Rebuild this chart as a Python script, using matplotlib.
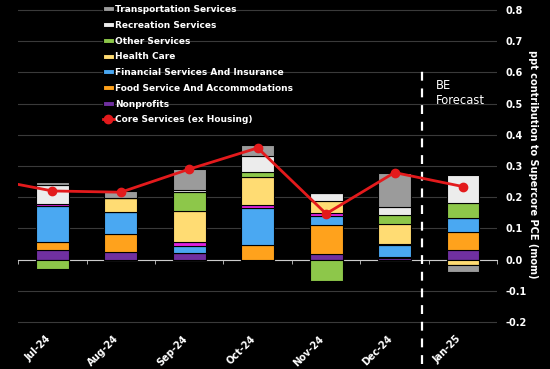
import numpy as np
import matplotlib
matplotlib.use("Agg")
import matplotlib.pyplot as plt

months = ["Jul-24", "Aug-24", "Sep-24", "Oct-24", "Nov-24", "Dec-24", "Jan-25"]

# contributions, ppt (stack order bottom -> top)
nonprofits = [0.030, 0.023, 0.022, -0.006, 0.017, 0.006, 0.032]
food_service = [0.027, 0.060, 0.000, 0.046, 0.095, 0.003, 0.057]
financial = [0.116, 0.068, 0.022, 0.120, 0.028, 0.038, 0.043]
misc = [0.005, 0.000, 0.012, 0.008, 0.008, 0.004, 0.000]
health_care = [0.000, 0.045, 0.099, 0.090, 0.039, 0.064, -0.018]
other_services = [-0.029, 0.000, 0.062, 0.016, -0.069, 0.029, 0.048]
recreation = [0.061, 0.000, 0.005, 0.052, 0.026, 0.024, 0.091]
transportation = [0.011, 0.023, 0.067, 0.036, 0.000, 0.109, -0.023]

# core services ex housing, with Jun-24 at the left edge
core_x = [-1, 0, 1, 2, 3, 4, 5, 6]
core_services = [0.262, 0.220, 0.216, 0.290, 0.358, 0.147, 0.279, 0.234]

series = [
    ("Nonprofits", nonprofits, "#7030a0"),
    ("Food Service And Accommodations", food_service, "#ffa21c"),
    ("Financial Services And Insurance", financial, "#4aa8f2"),
    (None, misc, "#e020e0"),
    ("Health Care", health_care, "#ffdc73"),
    ("Other Services", other_services, "#8dc74a"),
    ("Recreation Services", recreation, "#ececec"),
    ("Transportation Services", transportation, "#9b9b9b"),
]

fig = plt.figure(figsize=(5.5, 3.69), dpi=100, facecolor="black")
ax = fig.add_axes([0.033, 0.1106, 0.871, 0.8875], facecolor="black")

x = np.arange(len(months))
pos_base = np.zeros(len(months))
neg_base = np.zeros(len(months))
handles = {}
for name, vals, col in series:
    v = np.array(vals)
    base = np.where(v >= 0, pos_base, neg_base)
    b = ax.bar(x, v, 0.48, bottom=base, color=col, edgecolor="black",
               linewidth=0.8, zorder=3)
    pos_base += np.where(v >= 0, v, 0)
    neg_base += np.where(v < 0, v, 0)
    if name:
        handles[name] = b

line, = ax.plot(core_x, core_services, color="#e31a1c", lw=2, marker="o",
                ms=6, zorder=5)

ax.set_xlim(-0.5, 6.5)
ax.set_ylim(-0.22, 0.83)

# grid
ax.set_yticks(np.arange(-0.2, 0.81, 0.1))
ax.yaxis.grid(True, color="#3a3a3a", lw=0.8, zorder=0)
ax.yaxis.tick_right()
ax.tick_params(axis="y", length=0, pad=6, colors="white", labelsize=7)
ax.set_yticklabels([f"{t:.1f}" for t in np.arange(-0.2, 0.81, 0.1)],
                   fontweight="bold")
ax.yaxis.set_label_position("right")
ax.set_ylabel("ppt contribution to Supercore PCE (mom)", rotation=270,
              color="white", fontsize=7, fontweight="bold", labelpad=8)

for s in ["top", "left", "right"]:
    ax.spines[s].set_visible(False)
ax.spines["bottom"].set_position(("data", 0))
ax.spines["bottom"].set_color("#cccccc")
ax.set_xticks([])
ax.set_xticks(np.arange(-0.5, 6.6, 1), minor=True)
ax.tick_params(axis="x", which="minor", length=3, color="#cccccc",
               direction="out")

sec = ax.secondary_xaxis("bottom")
sec.spines["bottom"].set_visible(False)
sec.set_xticks(x)
sec.set_xticklabels(months, rotation=45, ha="right", fontweight="bold")
sec.tick_params(length=0, pad=4, colors="white", labelsize=7)

# forecast divider
ax.axvline(5.4, ymin=-0.109, ymax=0.788, color="white", lw=1.6,
           ls=(0, (4, 3.5)), zorder=4, clip_on=False)
ax.text(5.6, 0.578, "BE\nForecast", color="white", fontsize=8.3, va="top",
        ha="left", linespacing=1.15)

order = ["Transportation Services", "Recreation Services", "Other Services",
         "Health Care", "Financial Services And Insurance",
         "Food Service And Accommodations", "Nonprofits"]
leg = ax.legend([handles[n] for n in order] + [line],
                order + ["Core Services (ex Housing)"],
                loc="upper left", bbox_to_anchor=(0.169, 0.998), frameon=False,
                prop={"weight": "bold", "size": 6.5}, labelcolor="white",
                handlelength=1.2, handleheight=0.5, handletextpad=0.2,
                labelspacing=0.75, borderaxespad=0)

fig.savefig("out.png", dpi=100, facecolor="black")
